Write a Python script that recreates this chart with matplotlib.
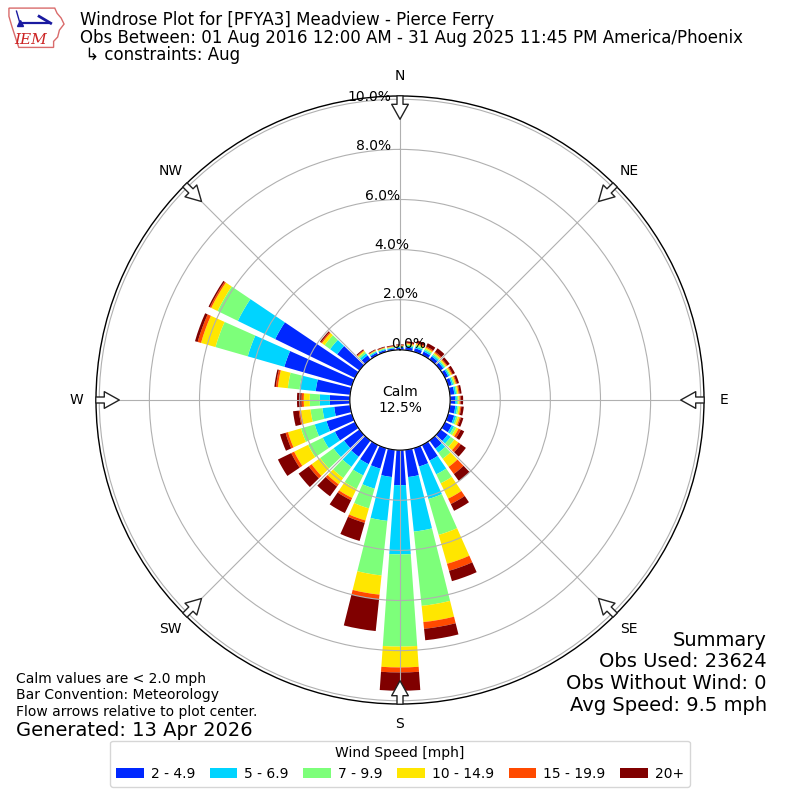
import numpy as np
import matplotlib
matplotlib.use("Agg")
import matplotlib.pyplot as plt
from matplotlib.patches import Patch, Circle, Polygon

# Direction bins (degrees, meteorological, clockwise from north)
directions = np.arange(0, 360, 10)

# Frequency (%) per direction for each speed bin
speed_2_5 = [0.08, 0.12, 0.15, 0.15, 0.15, 0.14, 0.14, 0.15, 0.18, 0.20, 0.22, 0.25,
             0.30, 0.35, 0.40, 0.69, 0.76, 1.09, 1.40, 1.09, 0.85, 0.85, 0.80, 0.76,
             0.89, 1.05, 0.64, 0.80, 1.38, 2.80, 3.54, 1.10, 0.20, 0.10, 0.08, 0.07]
speed_5_7 = [0.04, 0.06, 0.07, 0.07, 0.07, 0.06, 0.06, 0.06, 0.07, 0.07, 0.08, 0.08,
             0.10, 0.15, 0.20, 0.61, 1.35, 2.19, 2.76, 1.76, 0.83, 0.50, 0.50, 0.52,
             0.54, 0.49, 0.47, 0.40, 0.65, 1.52, 1.66, 0.35, 0.10, 0.05, 0.04, 0.03]
speed_7_10 = [0.03, 0.05, 0.06, 0.06, 0.06, 0.05, 0.05, 0.06, 0.05, 0.06, 0.06, 0.07,
              0.10, 0.18, 0.30, 0.40, 1.49, 2.98, 3.68, 2.19, 0.82, 0.60, 0.55, 0.66,
              0.65, 0.57, 0.48, 0.40, 0.47, 1.34, 0.90, 0.27, 0.08, 0.03, 0.03, 0.03]
speed_10_15 = [0.02, 0.04, 0.05, 0.05, 0.05, 0.05, 0.05, 0.05, 0.05, 0.05, 0.06, 0.08,
               0.10, 0.20, 0.40, 0.68, 1.20, 0.65, 0.83, 0.77, 0.50, 0.40, 0.31, 0.42,
               0.62, 0.54, 0.38, 0.24, 0.40, 0.60, 0.28, 0.13, 0.05, 0.02, 0.02, 0.02]
speed_15_20 = [0.02, 0.03, 0.04, 0.05, 0.05, 0.04, 0.04, 0.04, 0.04, 0.04, 0.04, 0.05,
               0.10, 0.12, 0.35, 0.24, 0.29, 0.27, 0.20, 0.18, 0.10, 0.10, 0.11, 0.14,
               0.13, 0.10, 0.09, 0.09, 0.08, 0.14, 0.06, 0.05, 0.03, 0.02, 0.02, 0.02]
speed_20_up = [0.03, 0.06, 0.10, 0.14, 0.17, 0.11, 0.10, 0.09, 0.08, 0.10, 0.10, 0.10,
               0.15, 0.25, 0.35, 0.30, 0.43, 0.46, 0.73, 1.28, 0.75, 0.57, 0.48, 0.50,
               0.59, 0.23, 0.23, 0.18, 0.06, 0.11, 0.06, 0.05, 0.04, 0.03, 0.03, 0.03]

speed_bins = [speed_2_5, speed_5_7, speed_7_10, speed_10_15, speed_15_20, speed_20_up]
speed_labels = ["2 - 4.9", "5 - 6.9", "7 - 9.9", "10 - 14.9", "15 - 19.9", "20+"]
speed_colours = ["#0028ff", "#00d4ff", "#7dff7a", "#ffe600", "#ff4a00", "#800000"]

rings = [0, 2, 4, 6, 8, 10]
ring_labels = ["0.0%", "2.0%", "4.0%", "6.0%", "8.0%", "10.0%"]
compass = ["N", "NE", "E", "SE", "S", "SW", "W", "NW"]
compass_angles = np.arange(0, 360, 45)

calm_pct = 12.5
title_lines = ["Windrose Plot for [PFYA3] Meadview - Pierce Ferry",
               "Obs Between: 01 Aug 2016 12:00 AM - 31 Aug 2025 11:45 PM America/Phoenix",
               " \u21b3 constraints: Aug"]
notes = ["Calm values are < 2.0 mph", "Bar Convention: Meteorology",
         "Flow arrows relative to plot center."]
generated = "Generated: 13 Apr 2026"
summary = ["Summary", "Obs Used: 23624", "Obs Without Wind: 0", "Avg Speed: 9.5 mph"]

fig = plt.figure(figsize=(8, 8), dpi=100)
ax = fig.add_axes([0.12, 0.12, 0.76, 0.76], projection="polar")
ax.set_theta_zero_location("N")
ax.set_theta_direction(-1)
ax.set_ylim(0, 10.13)
ax.set_rorigin(-2)

theta = np.deg2rad(directions)
bottom = np.zeros(len(directions))
for values, colour in zip(speed_bins, speed_colours):
    values = np.array(values)
    ax.bar(theta, values, width=np.deg2rad(8), bottom=bottom, color=colour,
           edgecolor="none", zorder=1)
    bottom += values

ax.set_yticks(rings)
ax.set_yticklabels([])
ax.set_xticks(np.deg2rad(compass_angles))
ax.set_xticklabels([])
ax.grid(True, color="#b0b0b0", linewidth=0.8)
ax.spines["polar"].set_linewidth(1.0)

# ring labels, left aligned along a ray just west of north
for r, lab in zip(rings, ring_labels):
    ax.text(np.deg2rad(350), r, lab, ha="left", va="bottom", fontsize=10, zorder=5)

# compass labels and flow arrows
for ang, lab in zip(compass_angles, compass):
    t = np.deg2rad(ang)
    ax.text(t, 10.93, lab, ha="center", va="center", fontsize=10, clip_on=False)
    ax.annotate("", xy=(t, 9.09), xytext=(t, 10.25), annotation_clip=False,
                arrowprops=dict(arrowstyle="simple,head_length=0.9,head_width=1.0,tail_width=0.36",
                                mutation_scale=12, fc="white", ec="#222222", lw=1.0),
                zorder=6)

# calm circle
calm = Circle((0.5, 0.5), 49 / 608, transform=ax.transAxes, facecolor="white",
              edgecolor="black", linewidth=1.0, zorder=4)
ax.add_patch(calm)
ax.text(0.5, 0.5, "Calm\n%.1f%%" % calm_pct, transform=ax.transAxes, ha="center",
        va="center", fontsize=10, zorder=5)

# header
for i, line in enumerate(title_lines):
    fig.text(0.1, 0.975 - i * 0.022, line, ha="left", va="center", fontsize=12)

# logo
lax = fig.add_axes([0.009, 0.9375, 0.0725, 0.054])
lax.set_xlim(0, 1)
lax.set_ylim(0, 1)
lax.axis("off")
iowa = [(0.03, 0.97), (0.82, 0.97), (0.86, 0.85), (0.93, 0.74), (0.98, 0.60),
        (0.90, 0.46), (0.87, 0.30), (0.80, 0.20), (0.80, 0.06), (0.20, 0.06),
        (0.14, 0.30), (0.08, 0.55), (0.03, 0.78)]
lax.add_patch(Polygon(iowa, closed=True, fill=False, edgecolor="#d96b6b", linewidth=1.0))
lax.plot([0.22, 0.72], [0.62, 0.62], color="#1a1aa0", linewidth=1.6)
lax.plot([0.55, 0.75], [0.78, 0.62], color="#1a1aa0", linewidth=2.0)
lax.plot([0.16, 0.22], [0.90, 0.62], color="#1a1aa0", linewidth=1.0)
lax.plot([0.22], [0.62], marker="^", color="#1a1aa0", markersize=4)
lax.text(0.12, 0.08, "IEM", color="#cc2222", fontsize=11, fontstyle="italic",
         family="DejaVu Serif", ha="left", va="bottom")

# notes
for i, line in enumerate(notes):
    fig.text(0.02, 0.15125 - i * 0.0206, line, ha="left", va="center", fontsize=10)
fig.text(0.02, 0.0875, generated, ha="left", va="center", fontsize=14)

for i, line in enumerate(summary):
    fig.text(0.95875, 0.2 - i * 0.02714, line, ha="right", va="center", fontsize=14)

handles = [Patch(facecolor=c, edgecolor="none") for c in speed_colours]
fig.legend(handles, speed_labels, loc="lower center", bbox_to_anchor=(0.5, 0.008),
           ncol=6, fontsize=10, title="Wind Speed [mph]", title_fontsize=10,
           columnspacing=1.05, handletextpad=0.5)

fig.savefig("out.png", dpi=100)
